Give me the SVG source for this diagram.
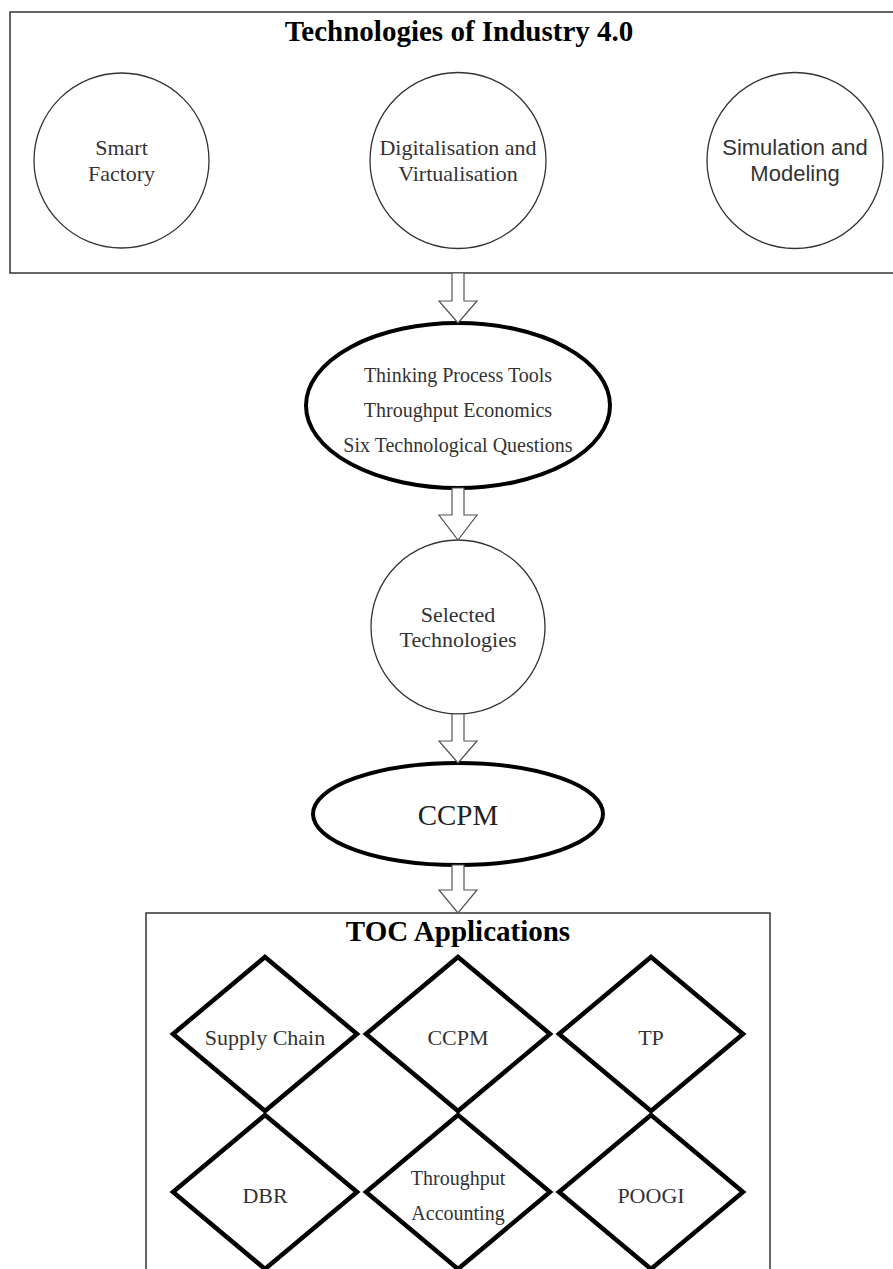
<svg xmlns="http://www.w3.org/2000/svg" width="893" height="1269" viewBox="0 0 893 1269">
<style>
.bg{fill:#ffffff}
.box{fill:#ffffff;stroke:#333333;stroke-width:1.5}
.circ{fill:#ffffff;stroke:#333333;stroke-width:1.3}
.thick{fill:#ffffff;stroke:#000000;stroke-width:4}
.dia{fill:none;stroke:#000000;stroke-width:4.5;stroke-linejoin:miter}
.arrow{fill:#ffffff;stroke:#555555;stroke-width:1.2;stroke-linejoin:miter}
.title{font-family:"Liberation Serif","Times New Roman",serif;font-weight:bold;font-size:29px;fill:#000000;text-anchor:middle}
.lbl{font-family:"Liberation Serif","Times New Roman",serif;font-size:22px;fill:#333333;text-anchor:middle}
.lbl20{font-family:"Liberation Serif","Times New Roman",serif;font-size:20px;fill:#333333;text-anchor:middle}
.sans{font-family:"Liberation Sans",Arial,sans-serif;font-size:22px;fill:#333333;text-anchor:middle}
.big{font-family:"Liberation Serif","Times New Roman",serif;font-size:29px;fill:#222222;text-anchor:middle}
</style>
<defs>
<path id="blockArrow" d="M-6,0 L6,0 L6,0 L6,0 Z"/>
</defs>
<rect class="bg" x="0" y="0" width="893" height="1269"/>

<g id="industry40">
<rect class="box" x="10" y="12" width="900" height="261"/>
<text class="title" x="459" y="41">Technologies of Industry 4.0</text>
</g>
<g id="smart-factory">
<circle class="circ" cx="121.5" cy="160.5" r="87.5"/>
<text class="lbl" x="121.5" y="155">Smart</text>
<text class="lbl" x="121.5" y="181">Factory</text>
</g>
<g id="digitalisation">
<circle class="circ" cx="458" cy="160.5" r="88"/>
<text class="lbl" x="458" y="155">Digitalisation and</text>
<text class="lbl" x="458" y="181">Virtualisation</text>
</g>
<g id="simulation">
<circle class="circ" cx="795" cy="160.5" r="88"/>
<text class="sans" x="795" y="155">Simulation and</text>
<text class="sans" x="795" y="181">Modeling</text>
</g>

<g id="toc-tools">
<ellipse class="thick" cx="458" cy="405.5" rx="152" ry="82.5"/>
<text class="lbl20" x="458" y="382">Thinking Process Tools</text>
<text class="lbl20" x="458" y="417">Throughput Economics</text>
<text class="lbl20" x="458" y="452">Six Technological Questions</text>
</g>

<g id="selected-tech">
<circle class="circ" cx="458" cy="627" r="87"/>
<text class="lbl" x="458" y="622">Selected</text>
<text class="lbl" x="458" y="647">Technologies</text>
</g>

<g id="ccpm">
<ellipse class="thick" cx="458" cy="814" rx="145" ry="51"/>
<text class="big" x="458" y="825">CCPM</text>
</g>

<g id="toc-applications">
<rect class="box" x="146" y="913" width="624" height="400"/>
<text class="title" x="458" y="941">TOC Applications</text>
</g>
<g id="supply-chain">
<polygon class="dia" points="265,957 357,1034 265,1111 173,1034"/>
<text class="lbl" x="265" y="1045">Supply Chain</text>
</g>
<g id="ccpm-app">
<polygon class="dia" points="458,957 550,1034 458,1111 366,1034"/>
<text class="lbl" x="458" y="1045">CCPM</text>
</g>
<g id="tp">
<polygon class="dia" points="651,957 743,1034 651,1111 559,1034"/>
<text class="lbl" x="651" y="1045">TP</text>
</g>
<g id="dbr">
<polygon class="dia" points="265,1115 357,1192 265,1269 173,1192"/>
<text class="lbl" x="265" y="1203">DBR</text>
</g>
<g id="throughput-accounting">
<polygon class="dia" points="458,1115 550,1192 458,1269 366,1192"/>
<text class="lbl20" x="458" y="1185">Throughput</text>
<text class="lbl20" x="458" y="1220">Accounting</text>
</g>
<g id="poogi">
<polygon class="dia" points="651,1115 743,1192 651,1269 559,1192"/>
<text class="lbl" x="651" y="1203">POOGI</text>
</g>

<g id="connectors">
<polygon class="arrow" points="452,273 464,273 464,301 477,301 458,323 439,301 452,301"/>
<polygon class="arrow" points="452,488 464,488 464,515 477,515 458,540 439,515 452,515"/>
<polygon class="arrow" points="452,714 464,714 464,741 477,741 458,763 439,741 452,741"/>
<polygon class="arrow" points="452,865 464,865 464,890 477,890 458,913 439,890 452,890"/>
</g>
</svg>
